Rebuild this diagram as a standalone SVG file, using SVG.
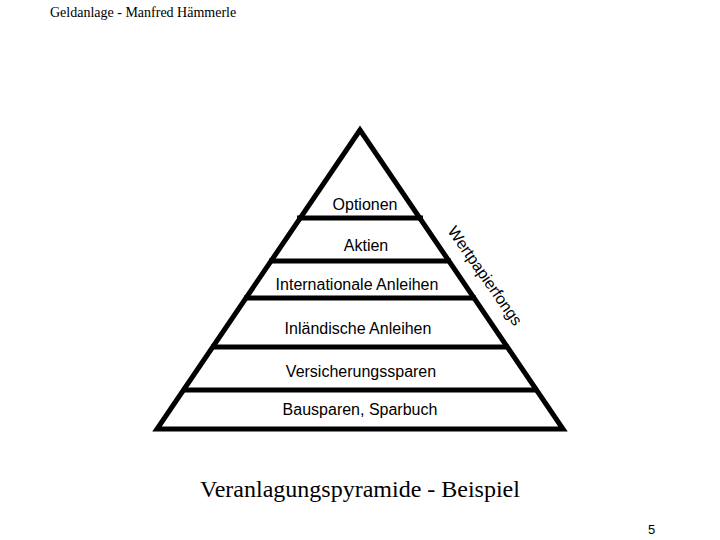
<svg xmlns="http://www.w3.org/2000/svg" width="720" height="540" viewBox="0 0 720 540">
<style>
.lbl{font-family:"Liberation Sans",Arial,sans-serif;font-size:16px;fill:#000;text-anchor:middle}
.ser{font-family:"Liberation Serif","Times New Roman",serif;fill:#000}
.ln{stroke:#000;stroke-width:5;fill:none}
</style>
<rect width="720" height="540" fill="#fff"/>
<text class="ser" x="50" y="17" font-size="14">Geldanlage - Manfred Hämmerle</text>
<g id="pyramid">
<polygon class="ln" points="360,130 157,429 563,429" stroke-linejoin="miter"/>
</g>
<g id="connectors">
<line class="ln" x1="297" y1="218" x2="423" y2="218"/>
<line class="ln" x1="269" y1="261" x2="451" y2="261"/>
<line class="ln" x1="244" y1="298" x2="476" y2="298"/>
<line class="ln" x1="211" y1="347" x2="509" y2="347"/>
<line class="ln" x1="182" y1="390" x2="538" y2="390"/>
</g>
<g id="optionen"><text class="lbl" x="365" y="210">Optionen</text></g>
<g id="aktien"><text class="lbl" x="366" y="251">Aktien</text></g>
<g id="internationale"><text class="lbl" x="357" y="290">Internationale Anleihen</text></g>
<g id="inlaendische"><text class="lbl" x="358" y="334">Inländische Anleihen</text></g>
<g id="versicherung"><text class="lbl" x="361" y="377">Versicherungssparen</text></g>
<g id="bausparen"><text class="lbl" x="360" y="415">Bausparen, Sparbuch</text></g>
<g id="wertpapier"><text class="lbl" style="text-anchor:start" transform="translate(447,231) rotate(55)">Wertpapierfongs</text></g>
<text class="ser" x="360" y="497" font-size="24" text-anchor="middle">Veranlagungspyramide - Beispiel</text>
<text x="648" y="534" font-family="Liberation Sans,Arial,sans-serif" font-size="13">5</text>
</svg>
